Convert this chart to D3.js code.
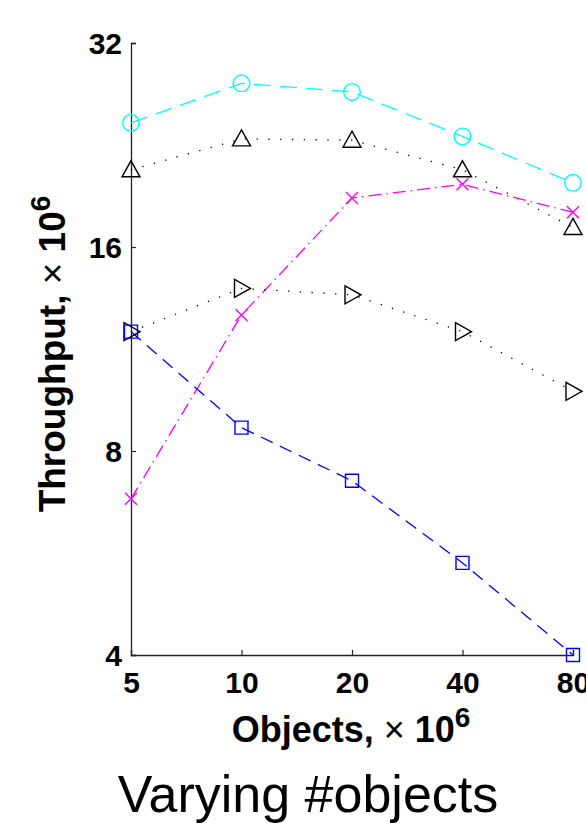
<!DOCTYPE html>
<html>
<head>
<meta charset="utf-8">
<script src="https://cdn.jsdelivr.net/npm/d3@7"></script>
<style>
  html, body { margin: 0; padding: 0; background: #fff; }
  svg { display: block; font-family: "Liberation Sans", Arial, sans-serif; }
</style>
</head>
<body>
<div id="chart"></div>
<script>
// 数据
const objects = [5, 10, 20, 40, 80];
const seriesCircle = [24.4, 27.9, 27.1, 23.3, 19.9];
const seriesTriUp = [20.8, 23.1, 23.0, 20.8, 17.1];
const seriesCross = [6.8, 12.7, 18.9, 19.8, 18.0];
const seriesTriRight = [12.0, 13.9, 13.6, 12.0, 9.8];
const seriesSquare = [12.0, 8.66, 7.23, 5.47, 4.0];
const yTicks = [4, 8, 16, 32];

const width = 586, height = 823;

const series = [
  { values: seriesCircle, color: "#00ffff", dash: "17,9", marker: "circle" },
  { values: seriesTriUp, color: "#000000", dash: "1.3,10.5", marker: "triUp" },
  { values: seriesCross, color: "#ff00ff", dash: "13,5,1.5,5", marker: "cross" },
  { values: seriesTriRight, color: "#000000", dash: "1.3,10.5", marker: "triRight" },
  { values: seriesSquare, color: "#0000ff", dash: "13,8", marker: "square" }
];

const svg = d3.select("#chart").append("svg")
  .attr("width", width)
  .attr("height", height);

// 比例尺（对数）
const x = d3.scaleLog().base(2).domain([5, 80]).range([131, 573]);
const y = d3.scaleLog().base(2).domain([4, 32]).range([655, 43]);

// 坐标轴
const xAxis = d3.axisBottom(x).tickValues(objects).tickSize(-5).tickPadding(16).tickFormat(d3.format("d"));
const yAxis = d3.axisLeft(y).tickValues(yTicks).tickSize(-5).tickPadding(9).tickFormat(d3.format("d"));

const gx = svg.append("g").attr("transform", `translate(0,${y(4)})`).call(xAxis);
const gy = svg.append("g").attr("transform", `translate(${x(5)},0)`).call(yAxis);

[gx, gy].forEach(g => {
  g.select(".domain").attr("stroke", "#222").attr("stroke-width", 1.3);
  g.selectAll(".tick line").attr("stroke", "#222").attr("stroke-width", 1.2);
  g.selectAll(".tick text")
    .attr("fill", "#000")
    .style("font-size", "30px")
    .style("font-weight", "bold")
    .style("font-family", "'Liberation Sans', Arial, sans-serif");
});
gx.selectAll(".tick text").attr("dy", "0.72em");
gy.selectAll(".tick text").attr("dy", "0.36em");

// 折线
const line = d3.line()
  .x((d, i) => x(objects[i]))
  .y(d => y(d));

series.forEach(s => {
  svg.append("path")
    .datum(s.values)
    .attr("fill", "none")
    .attr("stroke", s.color)
    .attr("stroke-width", 1.3)
    .attr("stroke-dasharray", s.dash)
    .attr("d", line);
});

// 标记
function markerPath(type) {
  switch (type) {
    case "triUp": return "M0,-9L9,7L-9,7Z";
    case "triRight": return "M-7,-9L9,0L-7,9Z";
    case "square": return "M-6.5,-6.5H6.5V6.5H-6.5Z";
    case "cross": return "M-6,-6L6,6M-6,6L6,-6";
  }
}

series.forEach(s => {
  const g = svg.append("g");
  s.values.forEach((v, i) => {
    if (s.marker === "circle") {
      g.append("circle")
        .attr("cx", x(objects[i])).attr("cy", y(v)).attr("r", 8.3)
        .attr("fill", "none").attr("stroke", s.color).attr("stroke-width", 1.4);
    } else {
      g.append("path")
        .attr("transform", `translate(${x(objects[i])},${y(v)})`)
        .attr("d", markerPath(s.marker))
        .attr("fill", "none").attr("stroke", s.color).attr("stroke-width", 1.4);
    }
  });
});

// 轴标题
const xLabel = svg.append("text")
  .attr("x", 351).attr("y", 742)
  .attr("text-anchor", "middle")
  .style("font-size", "36px").style("font-weight", "bold");
xLabel.append("tspan").text("Objects, ");
xLabel.append("tspan").style("font-weight", "normal").text("\u00d7");
xLabel.append("tspan").text(" 10");
xLabel.append("tspan").attr("dy", "-15").style("font-size", "28px").text("6");

const yLabel = svg.append("text")
  .attr("transform", "translate(65,354) rotate(-90)")
  .attr("text-anchor", "middle")
  .style("font-size", "37px").style("font-weight", "bold");
yLabel.append("tspan").text("Throughput, ");
yLabel.append("tspan").style("font-weight", "normal").text("\u00d7");
yLabel.append("tspan").text(" 10");
yLabel.append("tspan").attr("dy", "-15").style("font-size", "28px").text("6");

// 标题
svg.append("text")
  .attr("x", 308).attr("y", 812)
  .attr("text-anchor", "middle")
  .style("font-size", "52px")
  .text("Varying #objects");
</script>
</body>
</html>
